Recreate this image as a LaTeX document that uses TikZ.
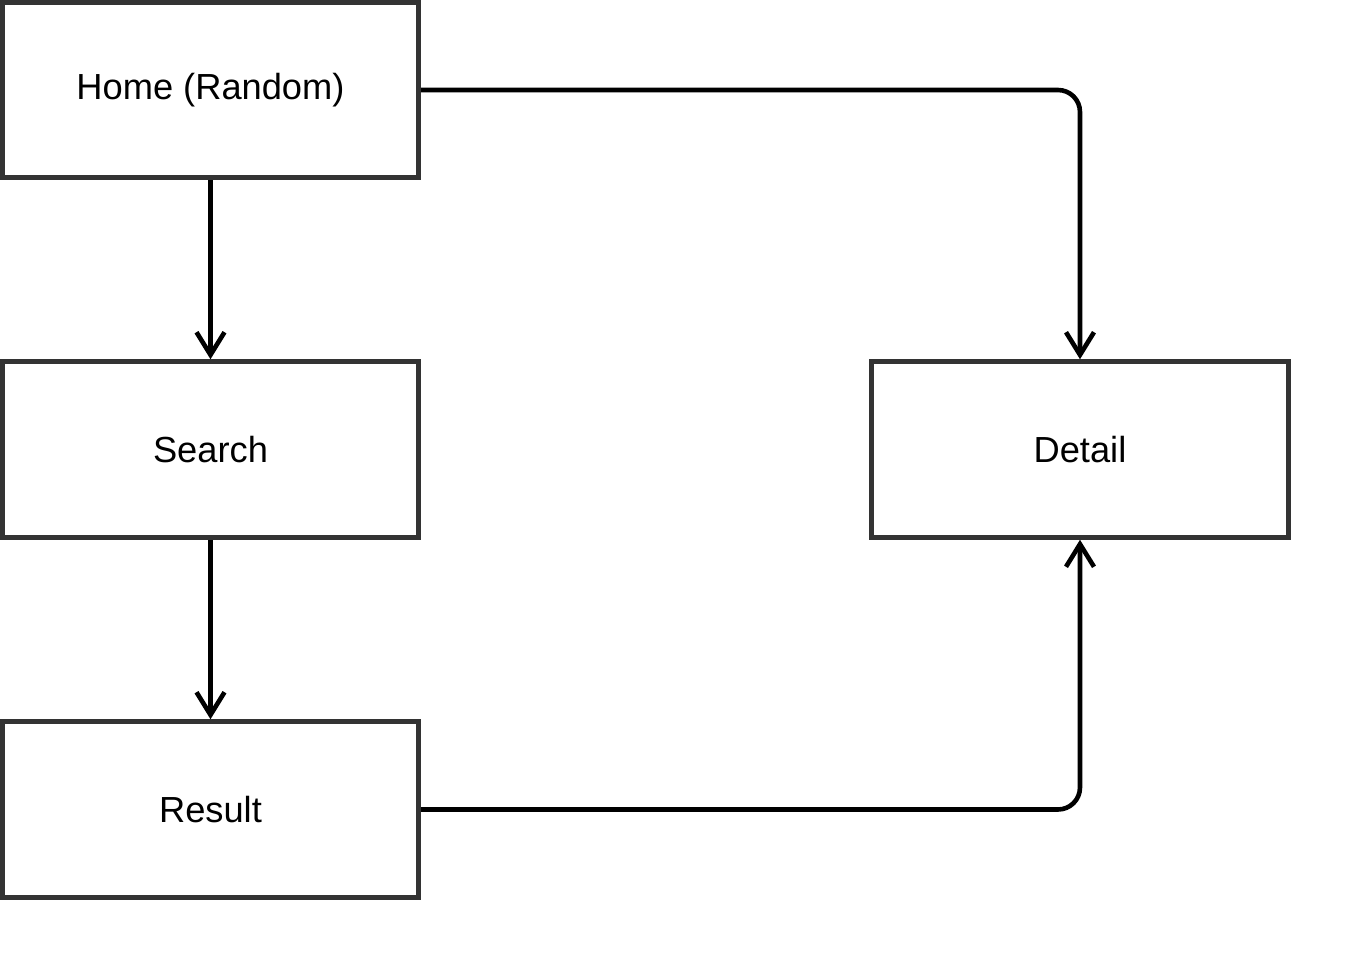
\documentclass[tikz,border=0pt]{standalone}
\usepackage{fontspec}
\setmainfont{Liberation Sans}
\usetikzlibrary{arrows.meta}
\definecolor{boxline}{HTML}{333333}
\begin{document}
\begin{tikzpicture}[x=0.75pt,y=-0.75pt,
  box/.style={draw=boxline, line width=5*0.75pt, rectangle, inner sep=0pt,
    minimum width=416*0.75pt, minimum height=175.5*0.75pt, font=\fontsize{27.2pt}{32pt}\selectfont},
  conn/.style={draw=black, line width=4.6*0.75pt, rounded corners=22*0.75pt,
    -{Straight Barb[length=17pt,width=21pt,line width=4.6*0.75pt]}}]
\useasboundingbox (0,0) rectangle (1365,960);
\fill[white] (0,0) rectangle (1365,960);
\node[box] (home) at (210.5,90) {Home (Random)};
\node[box] (search) at (210.5,449.5) {Search};
\node[box] (result) at (210.5,809.5) {Result};
\node[box, minimum width=417*0.75pt] (detail) at (1080,449.5) {Detail};
\draw[conn] (home.south) -- (search.north);
\draw[conn] (search.south) -- (result.north);
\draw[conn] (home.east) -| (detail.north);
\draw[conn] (result.east) -| (detail.south);
\end{tikzpicture}
\end{document}
